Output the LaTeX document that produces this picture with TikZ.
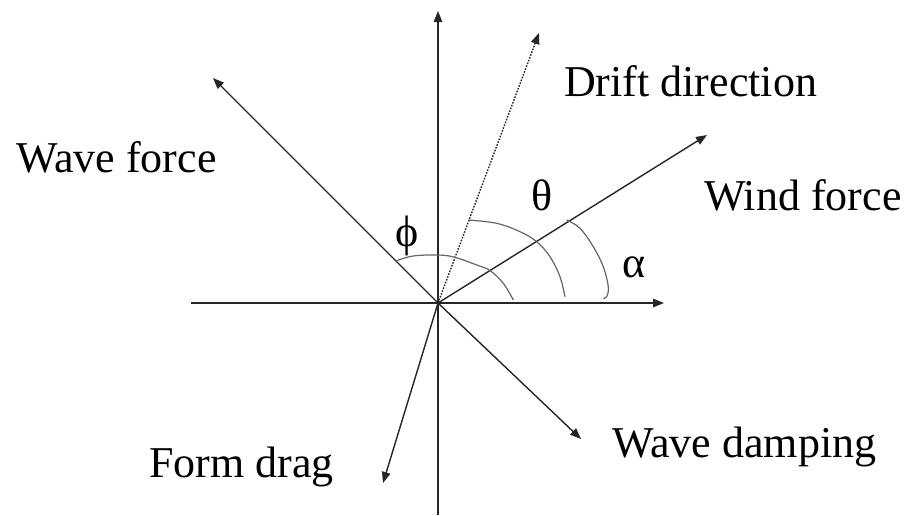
\documentclass[tikz,border=0pt]{standalone}
\usepackage{fontspec}
\setmainfont{Liberation Serif}
\usetikzlibrary{arrows.meta}
\tikzset{
  vec/.style={line width=1.4pt, draw=black!85, -{Triangle[length=11pt,width=8.5pt]}},
  axisline/.style={line width=1.4pt, draw=black!85},
  driftline/.style={vec, dash pattern=on 1.6pt off 1.4pt},
  anglearc/.style={line width=1.2pt, draw=black!60},
  lbl/.style={anchor=base west, inner sep=0pt, font=\fontsize{44pt}{50pt}\selectfont},
  greek/.style={anchor=center, inner sep=0pt, font=\fontsize{44pt}{48pt}\selectfont}
}
\begin{document}
\begin{tikzpicture}[x=1pt, y=-1pt]
\useasboundingbox[fill=white] (0,0) rectangle (906,515);
% points
\coordinate (O) at (438,303);
\coordinate (vbot) at (438,515);
\coordinate (vtop) at (438,11);
\coordinate (hleft) at (191,303);
\coordinate (hright) at (664,303);
\coordinate (wavetip) at (213,78);
\coordinate (drifttip) at (539,33);
\coordinate (windtip) at (707,135);
\coordinate (damptip) at (581,439);
\coordinate (dragtip) at (383,483);
% axes
\draw[axisline] (O) -- (vbot);
\draw[vec] (O) -- (vtop);
\draw[axisline] (hleft) -- (O);
\draw[vec] (O) -- (hright);
% vectors
\draw[vec] (O) -- (wavetip);
\draw[driftline] (O) -- (drifttip);
\draw[vec] (O) -- (windtip);
\draw[vec] (O) -- (damptip);
\draw[vec] (O) -- (dragtip);
% angle arcs
\draw[anglearc] plot[smooth, tension=0.6] coordinates {(396.7,260.7) (413.3,256) (438.3,255) (455,257.3) (476.7,265) (490,270.5) (503.3,283.3) (513.3,300)};
\draw[anglearc] plot[smooth, tension=0.6] coordinates {(468.3,220) (496.7,223.3) (520,231.7) (536.7,241.7) (550,256.7) (560,276.7) (565,296.7)};
\draw[anglearc] plot[smooth, tension=0.6] coordinates {(566.7,220) (580,228.3) (593.3,246.7) (603.3,266.7) (608.3,286.7) (606.7,296.7) (603.3,298.3)};
% labels
\node[lbl] (lwave) at (16,172) {Wave force};
\node[lbl] (ldrift) at (564,96) {Drift direction};
\node[lbl] (lwind) at (704,210) {Wind force};
\node[lbl] (ldamp) at (612,457) {Wave damping};
\node[lbl] (ldrag) at (149,477) {Form drag};
\node[greek] (ltheta) at (542,195) {θ};
\node[greek] (lphi) at (407,236) {ϕ};
\node[greek] (lalpha) at (634,267) {α};
\end{tikzpicture}
\end{document}
